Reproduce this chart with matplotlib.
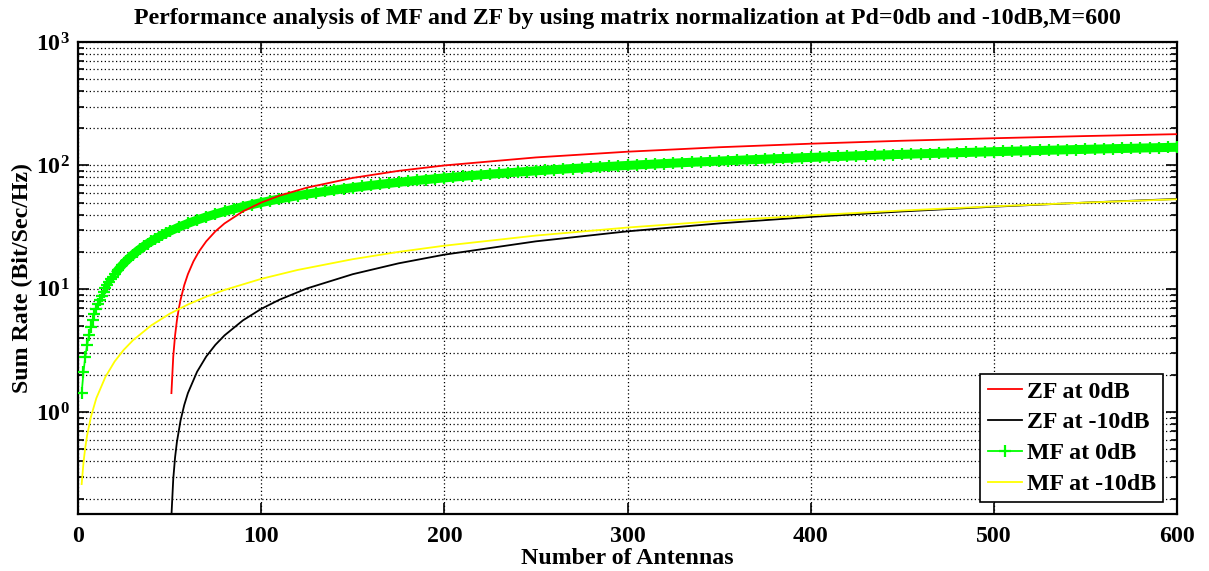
import numpy as np
import matplotlib
matplotlib.use("Agg")
import matplotlib.pyplot as plt
from matplotlib.ticker import LogLocator, LogFormatterMathtext, NullFormatter, FixedLocator

plt.rcParams['font.family'] = ['Liberation Serif', 'DejaVu Serif']
plt.rcParams['font.weight'] = 'bold'
plt.rcParams['mathtext.fontset'] = 'custom'
plt.rcParams['mathtext.rm'] = 'Liberation Serif:bold'
plt.rcParams['mathtext.it'] = 'Liberation Serif:bold'
plt.rcParams['mathtext.bf'] = 'Liberation Serif:bold'
plt.rcParams['mathtext.default'] = 'rm'

# ---- data ----
zf0_x = [51, 52, 53, 54, 55, 56, 58, 60, 63, 66, 70, 75, 80, 90, 100, 110, 125, 150, 175,
         200, 250, 300, 350, 400, 450, 500, 550, 600]
zf0_y = [1.43, 2.83, 4.20, 5.55, 6.88, 8.17, 10.71, 13.15, 16.67, 20.03, 24.27, 29.25, 33.90,
         42.40, 50.0, 56.88, 66.10, 79.25, 90.37, 100.0, 116.1, 129.2, 140.4, 150.0, 158.5,
         166.1, 173.0, 179.2]

zf10_x = [51, 52, 53, 54, 56, 58, 60, 65, 70, 75, 80, 90, 100, 110, 125, 150, 175, 200, 250,
          300, 350, 400, 450, 500, 550, 600]
zf10_y = [0.144, 0.288, 0.432, 0.575, 0.860, 1.145, 1.43, 2.13, 2.83, 3.52, 4.20, 5.55, 6.88,
          8.17, 10.08, 13.15, 16.10, 18.93, 24.27, 29.25, 33.90, 38.28, 42.40, 46.30, 50.0, 53.52]

mf0_x = list(range(2, 21)) + list(range(22, 50, 2)) + list(range(50, 601, 5))
mf0_y = [1.43, 2.13, 2.83, 3.52, 4.20, 4.88, 5.55, 6.22, 6.88, 7.53, 8.17, 8.82, 9.45, 10.08,
         10.71, 11.33, 11.94, 12.55, 13.15,
         14.34, 15.52, 16.67, 17.81, 18.93, 20.03, 21.11, 22.18, 23.23, 24.27, 25.29, 26.30,
         27.30, 28.28,
         29.25, 31.61, 33.90, 36.12, 38.28, 40.37, 42.40, 44.38, 46.30, 48.17,
         50.00, 51.78, 53.52, 55.22, 56.88, 58.50, 60.08, 61.63, 63.15, 64.64,
         66.10, 67.52, 68.93, 70.30, 71.65, 72.97, 74.27, 75.55, 76.80, 78.04,
         79.25, 80.4, 81.6, 82.8, 83.9, 85.0, 86.1, 87.2, 88.3, 89.3,
         90.4, 91.4, 92.4, 93.4, 94.4, 95.3, 96.3, 97.2, 98.2, 99.1,
         100.0, 100.9, 101.8, 102.7, 103.5, 104.4, 105.2, 106.1, 106.9, 107.7,
         108.5, 109.3, 110.1, 110.9, 111.6, 112.4, 113.2, 113.9, 114.6, 115.4,
         116.1, 116.8, 117.5, 118.2, 118.9, 119.6, 120.3, 121.0, 121.6, 122.3,
         123.0, 123.6, 124.3, 124.9, 125.5, 126.2, 126.8, 127.4, 128.0, 128.6,
         129.2, 129.8, 130.4, 131.0, 131.6, 132.2, 132.8, 133.3, 133.9, 134.5,
         135.0, 135.6, 136.1, 136.7, 137.2, 137.7, 138.3, 138.8, 139.3, 139.9,
         140.4]

mf10_x = [2, 3, 4, 5, 7, 10, 15, 20, 25, 30, 40, 50, 60, 70, 80, 100, 120, 150, 175, 200,
          250, 300, 350, 400, 450, 500, 550, 600]
mf10_y = [0.262, 0.392, 0.523, 0.653, 0.912, 1.30, 1.94, 2.58, 3.21, 3.83, 5.06, 6.28, 7.47,
          8.64, 9.80, 12.05, 14.24, 17.40, 19.93, 22.37, 27.03, 31.40, 35.52, 39.42, 43.12,
          46.64, 50.0, 53.21]

x_ticks = [0, 100, 200, 300, 400, 500, 600]

FS = 17.2

fig = plt.figure(figsize=(12.09, 5.71), dpi=100)
ax = fig.add_axes([78/1209, 57/571, (1177-78)/1209, (514-42)/571])

ax.plot(zf0_x, zf0_y, color='#ff0000', lw=1.3, label='ZF at 0dB', zorder=4)
ax.plot(zf10_x, zf10_y, color='black', lw=1.3, label='ZF at -10dB', zorder=4)
ax.plot(mf0_x, mf0_y, color='#00ff00', lw=1.3, marker='+', ms=8, mew=1.6,
        label='MF at 0dB', zorder=3)
# dense overlapping markers appear as a solid band in the original
ax.plot(mf0_x[18:], mf0_y[18:], color='#00ff00', lw=6.5, solid_capstyle='butt', zorder=3)
ax.plot(mf10_x, mf10_y, color='#ffff00', lw=1.3, label='MF at -10dB', zorder=4)

ax.set_yscale('log')
ax.set_xlim(0, 600)
ax.set_ylim(0.15, 1000)
ax.xaxis.set_major_locator(FixedLocator(x_ticks))
ax.yaxis.set_major_locator(LogLocator(base=10, numticks=10))
ax.yaxis.set_minor_locator(LogLocator(base=10, subs=np.arange(2, 10), numticks=20))
ax.yaxis.set_major_formatter(LogFormatterMathtext())
ax.yaxis.set_minor_formatter(NullFormatter())

grid_kw = dict(color='black', linestyle=(0, (1, 2)), linewidth=0.9)
ax.grid(True, which='major', axis='both', **grid_kw)
ax.grid(True, which='minor', axis='y', **grid_kw)
ax.set_axisbelow(True)

ax.tick_params(which='both', direction='in', top=True, right=True, width=1.2)
ax.tick_params(which='major', length=8, labelsize=FS, pad=9)
ax.tick_params(which='minor', length=4)
ax.tick_params(axis='y', which='major', pad=6)
for s in ax.spines.values():
    s.set_linewidth(1.6)

ax.set_xlabel('Number of Antennas', fontsize=FS, fontweight='bold', labelpad=0)
ax.set_ylabel('Sum Rate (Bit/Sec/Hz)', fontsize=FS, fontweight='bold', labelpad=2)
ax.set_title('Performance analysis of MF and ZF by using matrix normalization at Pd=0db and -10dB,M=600',
             fontsize=FS, fontweight='bold', pad=13)

leg = ax.legend(loc='lower right', bbox_to_anchor=(0.9875, 0.025), fontsize=FS,
                frameon=True, fancybox=False, framealpha=1, edgecolor='black',
                handlelength=1.45, handletextpad=0.2, labelspacing=0.38,
                borderpad=0.3, borderaxespad=0, numpoints=1)
leg.get_frame().set_linewidth(1.2)

fig.savefig('out.png', dpi=100)
